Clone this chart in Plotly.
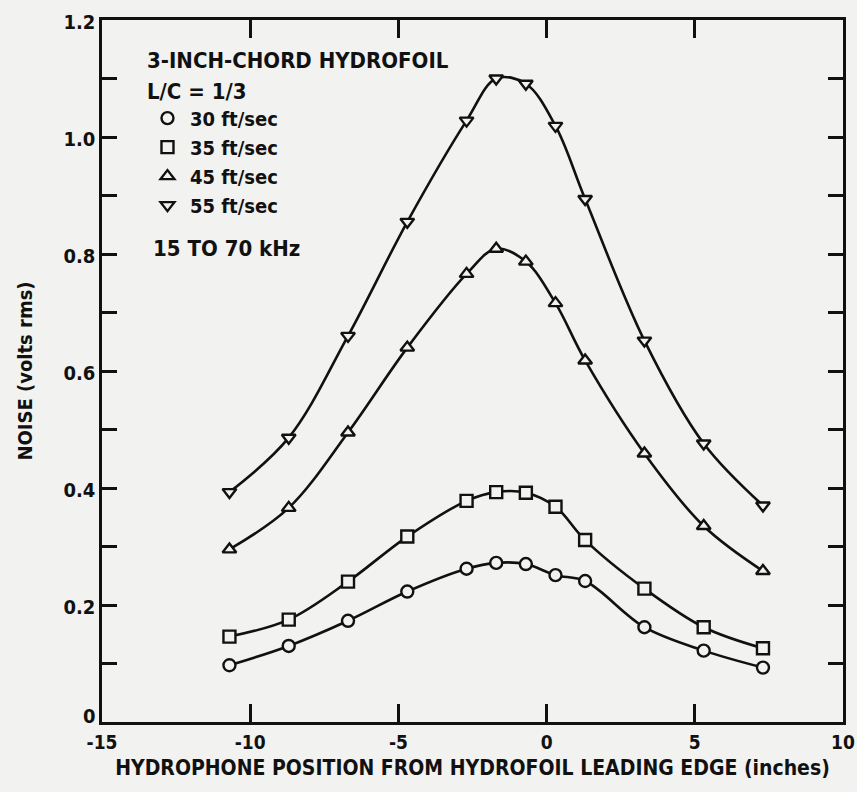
import plotly.graph_objects as go

# ---- data ----
positions = [-10.7, -8.7, -6.7, -4.7, -2.7, -1.7, -0.7, 0.3, 1.3, 3.3, 5.3, 7.3]
noise_30 = [0.097, 0.130, 0.173, 0.223, 0.262, 0.272, 0.270, 0.251, 0.241, 0.162, 0.122, 0.093]
noise_35 = [0.146, 0.175, 0.240, 0.317, 0.378, 0.393, 0.392, 0.368, 0.311, 0.228, 0.162, 0.126]
noise_45 = [0.295, 0.366, 0.495, 0.640, 0.766, 0.809, 0.787, 0.716, 0.618, 0.459, 0.335, 0.258]
noise_55 = [0.393, 0.486, 0.660, 0.855, 1.028, 1.100, 1.091, 1.019, 0.894, 0.652, 0.476, 0.370]

series_names = ["30 ft/sec", "35 ft/sec", "45 ft/sec", "55 ft/sec"]
series_values = [noise_30, noise_35, noise_45, noise_55]
series_symbols = ["circle", "square", "triangle-up", "triangle-down"]

x_tickvals = [-15, -10, -5, 0, 5, 10]
x_ticktext = ["-15", "-10", "-5", "0", "5", "10"]
y_tickvals = [0, 0.2, 0.4, 0.6, 0.8, 1.0, 1.2]
y_ticktext = ["", "0.2", "0.4", "0.6", "0.8", "1.0", "1.2"]
y_zero_label = "0"   # drawn slightly raised so it clears the "-15" x label

BG = "#f2f2f0"
INK = "#111111"
FONT = "Liberation Sans Narrow, DejaVu Sans Condensed, Arial Narrow, sans-serif"

fig = go.Figure()

# smooth curves
for vals in series_values:
    fig.add_trace(go.Scatter(
        x=positions, y=vals, mode="lines",
        line=dict(color=INK, width=2.6, shape="spline", smoothing=1.0),
        showlegend=False, hoverinfo="skip"))

# data markers
for name, vals, sym in zip(series_names, series_values, series_symbols):
    fig.add_trace(go.Scatter(
        x=positions, y=vals, mode="markers", name=name,
        marker=dict(symbol=sym, size=12, color=BG,
                    line=dict(color=INK, width=2.4)),
        legendgroup=name))

fig.update_layout(
    width=857, height=792,
    margin=dict(l=102, r=14, t=20, b=70, autoexpand=False),
    paper_bgcolor=BG, plot_bgcolor=BG,
    font=dict(family=FONT, size=21, color=INK, weight="bold"),
    showlegend=True,
    legend=dict(x=0.058, y=0.888, xanchor="left", yanchor="top",
                bgcolor="rgba(0,0,0,0)", font=dict(size=20, family=FONT),
                itemwidth=35, tracegroupgap=0),
    xaxis=dict(range=[-15, 10], tickvals=x_tickvals, ticktext=x_ticktext,
               ticks="inside", ticklen=18, tickwidth=2.5, tickcolor=INK,
               showline=True, linewidth=2.5, linecolor=INK, mirror="ticks",
               showgrid=False, zeroline=False, automargin=False,
               tickfont=dict(size=19), ticklabelstandoff=1,
               title=dict(text="HYDROPHONE POSITION FROM HYDROFOIL LEADING EDGE (inches)",
                          font=dict(size=21), standoff=9)),
    yaxis=dict(range=[0, 1.2], tickvals=y_tickvals, ticktext=y_ticktext,
               ticks="inside", ticklen=15, tickwidth=2.5, tickcolor=INK,
               minor=dict(dtick=0.1, ticks="inside", ticklen=15, tickwidth=2.5, tickcolor=INK),
               showline=True, linewidth=2.5, linecolor=INK, mirror="ticks",
               showgrid=False, zeroline=False, automargin=False,
               tickfont=dict(size=20), ticklabelshift=2,
               title=dict(text="NOISE (volts rms)", font=dict(size=20), standoff=26)),
    annotations=[
        dict(text="3-INCH-CHORD HYDROFOIL", x=0.058, y=0.9416, xref="paper", yref="paper",
             xanchor="left", yanchor="middle", showarrow=False, font=dict(size=22)),
        dict(text="L/C = 1/3", x=0.058, y=0.898, xref="paper", yref="paper",
             xanchor="left", yanchor="middle", showarrow=False, font=dict(size=22)),
        dict(text="15 TO 70 kHz", x=0.066, y=0.675, xref="paper", yref="paper",
             xanchor="left", yanchor="middle", showarrow=False, font=dict(size=22)),
        dict(text=y_zero_label, x=0, y=0, xref="paper", yref="y",
             xanchor="right", yanchor="middle", xshift=-4, yshift=6,
             showarrow=False, font=dict(size=20)),
    ],
)

fig.write_html(
    "out.html",
    config={"displayModeBar": False},
    post_script="document.body.style.margin='0';document.body.style.background='#f2f2f0';",
)
